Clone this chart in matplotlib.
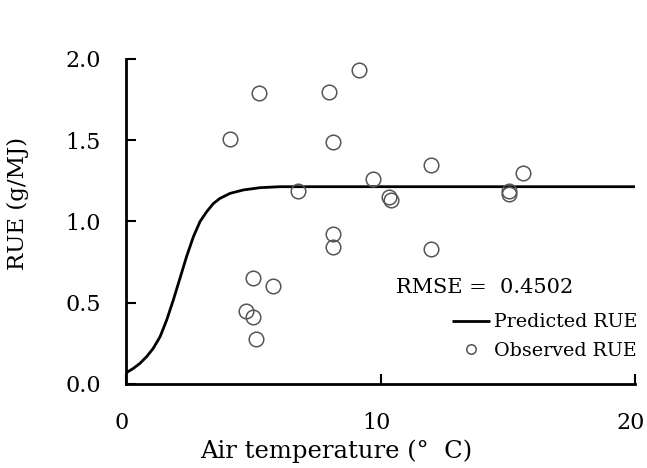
import numpy as np
import matplotlib
matplotlib.use("Agg")
import matplotlib.pyplot as plt
import matplotlib.transforms as mtransforms

# observed RUE
obs_temp = [5.23, 7.99, 4.09, 8.15, 9.14, 6.74, 8.15, 8.15, 11.98, 9.69, 15.61,
            10.35, 10.41, 15.05, 15.05, 11.98, 5.0, 5.79, 4.72, 5.0, 5.1]
obs_rue = [1.79, 1.795, 1.51, 1.49, 1.93, 1.19, 0.925, 0.845, 1.35, 1.26, 1.30,
           1.15, 1.13, 1.19, 1.17, 0.83, 0.65, 0.605, 0.45, 0.41, 0.275]

# predicted RUE curve
pred_temp = [0.0, 0.29, 0.55, 0.81, 1.07, 1.34, 1.60, 1.86, 2.12, 2.38, 2.65,
             2.91, 3.17, 3.43, 3.69, 4.09, 4.61, 5.27, 6.05, 20.0]
pred_rue = [0.068, 0.096, 0.127, 0.168, 0.219, 0.291, 0.394, 0.517, 0.65, 0.784,
            0.907, 1.0, 1.06, 1.11, 1.142, 1.173, 1.194, 1.208, 1.214, 1.214]

rmse_text = "RMSE =  0.4502"

plt.rcParams['font.family'] = ['DejaVu Serif']

fig = plt.figure(figsize=(6.47, 4.68), dpi=100)
ax = fig.add_axes([0.1947, 0.1795, 0.787, 0.6945])

ax.plot(pred_temp, pred_rue, color='black', lw=2.0, label="Predicted RUE",
        solid_capstyle='butt', solid_joinstyle='round')
ax.plot(obs_temp, obs_rue, linestyle='none', marker='o', markersize=10.5,
        markerfacecolor='none', markeredgecolor='#555555', markeredgewidth=1.1,
        label="Observed RUE")

ax.set_xlim(0, 20)
ax.set_ylim(0, 2.0)
ax.set_xticks([0, 10, 20])
ax.set_yticks([0, 0.5, 1.0, 1.5, 2.0])
ax.set_yticklabels(["0.0", "0.5", "1.0", "1.5", "2.0"])
ax.tick_params(direction='in', length=7, width=1.5, labelsize=16)
ax.tick_params(axis='x', pad=20)
ax.tick_params(axis='y', pad=18)

# x tick labels sit a little left of their ticks in the original
shift = mtransforms.ScaledTranslation(-3 / 72, 0, fig.dpi_scale_trans)
for lbl in ax.get_xticklabels():
    lbl.set_transform(lbl.get_transform() + shift)

for s in ['top', 'right']:
    ax.spines[s].set_visible(False)
for s in ['left', 'bottom']:
    ax.spines[s].set_linewidth(2.0)

ax.set_xlabel("Air temperature (°  C)", fontsize=17.5)
ax.xaxis.label.set_va('baseline')
ax.xaxis.set_label_coords(0.412, -0.228)
ax.set_ylabel("RUE (g/MJ)", fontsize=16.5)
ax.yaxis.label.set_va('center')
ax.yaxis.set_label_coords(-0.212, 0.555)

fig.text(0.612, 0.385, rmse_text, fontsize=15, va='center', ha='left')

leg = ax.legend(loc='center right', bbox_to_anchor=(0.9845, 0.281),
                bbox_transform=fig.transFigure, frameon=False,
                fontsize=13.7, handlelength=2.0, handletextpad=0.2,
                labelspacing=0.55, markerscale=0.65, borderaxespad=0, borderpad=0)

fig.savefig("out.png", dpi=100)
